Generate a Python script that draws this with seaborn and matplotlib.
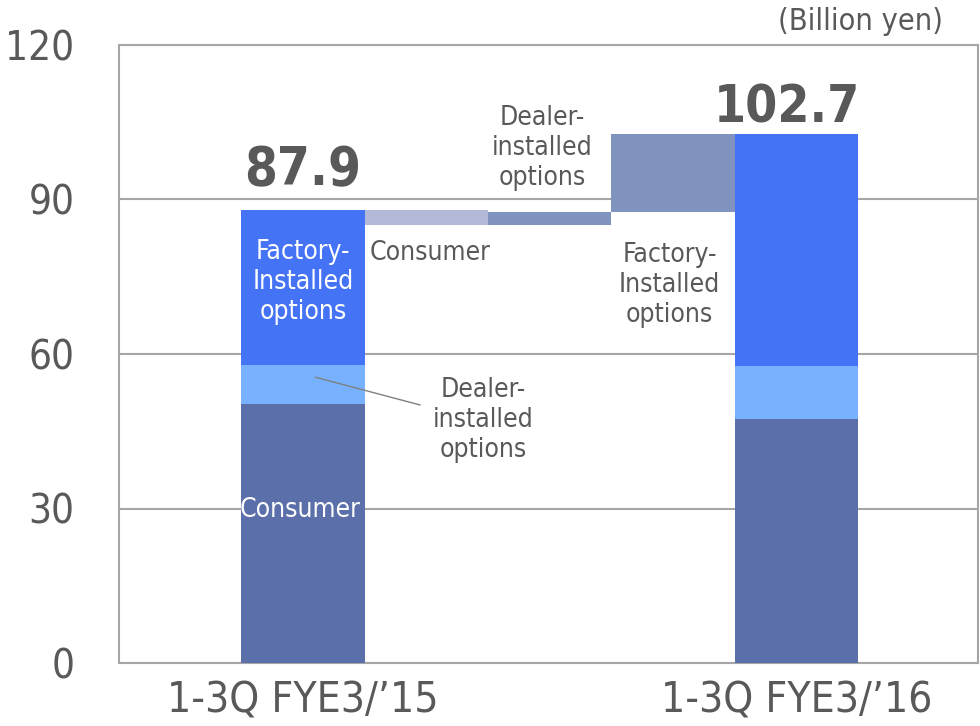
"""
Sales breakdown: 1-3Q FYE3/'15 vs 1-3Q FYE3/'16, stacked columns with a waterfall bridge.
"""

# =============== IMPORTS ===============
import matplotlib
matplotlib.use("Agg")
import matplotlib.pyplot as plt
import seaborn as sns
import pandas as pd


# =============== DATA ===============
periods = ["1-3Q FYE3/\u201915", "1-3Q FYE3/\u201916"]
segments = ["Consumer", "Dealer-installed options", "Factory-Installed options"]
consumer = [50.3, 47.4]
dealer = [7.6, 10.2]
factory = [30.0, 45.1]
totals = [87.9, 102.7]

# bridge steps (change from '15 to '16)
bridge_labels = ["Consumer", "Dealer-installed options", "Factory-Installed options"]
bridge_change = [-2.9, 2.6, 15.1]

y_ticks = [0, 30, 60, 90, 120]


# =============== STYLE ===============
sns.set_theme(style="white")
plt.rcParams["font.family"] = ["DejaVu Sans"]
plt.rcParams["font.stretch"] = "condensed"

C_CONSUMER = "#5B70AA"
C_DEALER = "#78B2FF"
C_FACTORY = "#4573F5"
C_BR_CONSUMER = "#B3B9D6"
C_BR_OTHER = "#8093BF"
GRID = "#A6A6A6"
TXT = "#595959"


# =============== FIGURE ===============
fig = plt.figure(figsize=(9.8, 7.26), dpi=100)
ax = fig.add_axes([119 / 980, 63 / 726, (978 - 119) / 980, (663 - 45) / 726])

order = [periods[0], "b1", "b2", "b3", periods[1]]

# stacked columns via cumulative heights, drawn from the top layer down
df = pd.DataFrame({"period": periods,
                   "consumer": consumer,
                   "dealer": dealer,
                   "factory": factory})
df["c1"] = df["consumer"]
df["c2"] = df["c1"] + df["dealer"]
df["c3"] = df["c2"] + df["factory"]

for col, colr in [("c3", C_FACTORY), ("c2", C_DEALER), ("c1", C_CONSUMER)]:
    sns.barplot(data=df, x="period", y=col, order=order, color=colr,
                saturation=1, width=1.0, errorbar=None, linewidth=0,
                ax=ax, zorder=3)

# waterfall bridge
level = totals[0]
for i, ch in enumerate(bridge_change):
    bottom = level + min(ch, 0)
    colr = C_BR_CONSUMER if i == 0 else C_BR_OTHER
    ax.bar(i + 1, abs(ch), bottom=bottom, width=1.0, color=colr,
           linewidth=0, zorder=3)
    level += ch

# =============== AXES ===============
ax.set_xlim(-1.49, 5.47)
ax.set_ylim(0, 120)
ax.set_yticks(y_ticks)
ax.set_xticks([0, 4])
ax.set_xticklabels(periods)
ax.set_xlabel("")
ax.set_ylabel("")
ax.yaxis.grid(True, color=GRID, linewidth=1.5, zorder=0)
ax.set_axisbelow(True)
for s in ax.spines.values():
    s.set_color(GRID)
    s.set_linewidth(1.5)
ax.tick_params(axis="y", length=0, pad=32, labelsize=29, labelcolor=TXT)
ax.tick_params(axis="x", length=0, pad=12, labelsize=30.5, labelcolor=TXT)

# =============== LABELS ===============
ax.text(0, 92.8, f"{totals[0]}", ha="center", va="baseline",
        fontsize=38, fontweight="bold", color=TXT, zorder=5)
ax.text(3.92, 104.9, f"{totals[1]}", ha="center", va="baseline",
        fontsize=37, fontweight="bold", color=TXT, zorder=5)

lbl = dict(fontsize=19, ha="center", va="center", linespacing=1.2, zorder=5)
ax.text(0, 74.0, "Factory-\nInstalled\noptions", color="white", **lbl)
ax.text(-0.02, 29.7, "Consumer", color="white", **lbl)
ax.text(1.03, 79.6, "Consumer", color=TXT, **lbl)
ax.text(1.94, 100.0, "Dealer-\ninstalled\noptions", color=TXT, **lbl)
ax.text(2.97, 73.4, "Factory-\nInstalled\noptions", color=TXT, **lbl)
ax.text(1.46, 47.2, "Dealer-\ninstalled\noptions", color=TXT, **lbl)
ax.plot([0.1, 0.95], [55.5, 50.1], color="#808080", linewidth=1, zorder=6)

fig.text(860 / 980, 1 - 22 / 726, "(Billion yen)", ha="center", va="center",
         fontsize=22, color=TXT)

plt.savefig("out.png", dpi=100)
plt.close()
